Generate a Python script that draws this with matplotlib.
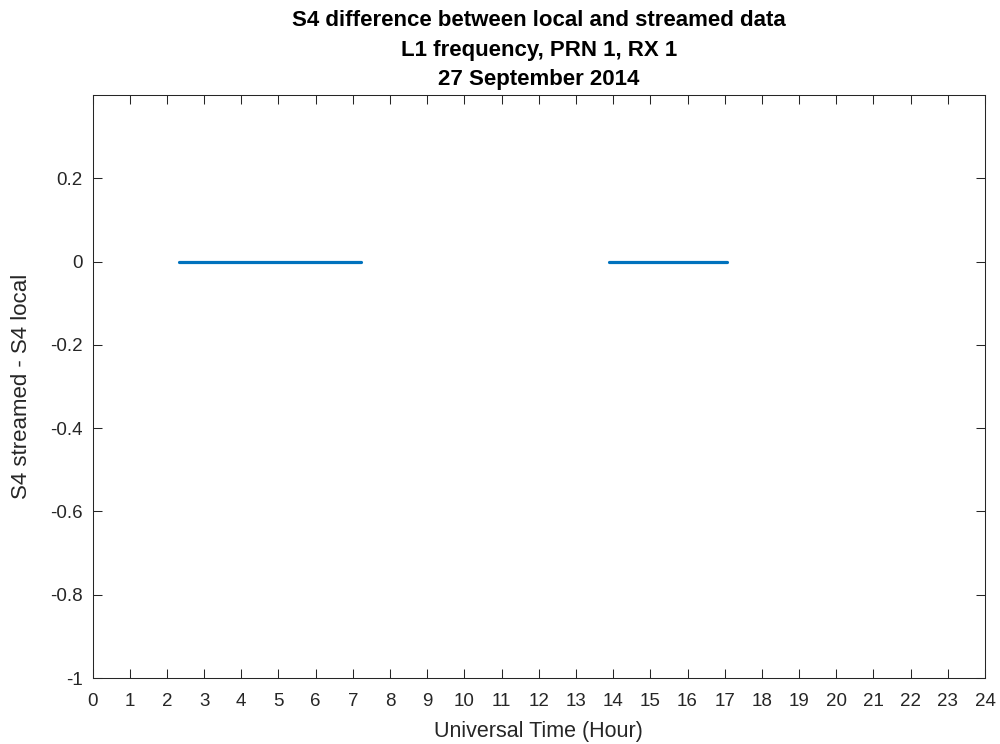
import numpy as np
import matplotlib.pyplot as plt

# S4 difference (streamed - local) per visible satellite pass, hours UT
pass_start = [2.33, 13.90]
pass_end = [7.22, 17.06]
pass_diff = [0.0, 0.0]

plt.rcParams['font.family'] = ['Liberation Sans', 'DejaVu Sans']

fig = plt.figure(figsize=(10, 7.44), dpi=100)
ax = fig.add_axes([0.0925, 0.0887, 0.8925, 0.7836])

for t0, t1, d in zip(pass_start, pass_end, pass_diff):
    ax.plot([t0, t1], [d, d], color='#0072BD', linewidth=2.3, solid_capstyle='round')

ax.set_xlim(0, 24)
ax.set_ylim(-1, 0.4)
ax.set_xticks(np.arange(0, 25, 1))
ax.set_yticks([-1, -0.8, -0.6, -0.4, -0.2, 0, 0.2])
ax.set_yticklabels(['-1', '-0.8', '-0.6', '-0.4', '-0.2', '0', '0.2'])

ax.tick_params(direction='in', length=6.5, width=0.75, top=True, right=True,
               labelsize=13.5, colors='#262626')
ax.tick_params(axis='x', pad=10.5)
ax.tick_params(axis='y', pad=7)
for sp in ax.spines.values():
    sp.set_linewidth(0.75)
    sp.set_color('#262626')

ax.set_xlabel('Universal Time (Hour)', fontsize=15.5, color='#262626', labelpad=8)
ax.set_ylabel('S4 streamed - S4 local', fontsize=16, color='#262626', labelpad=13)
ax.set_title('S4 difference between local and streamed data\nL1 frequency, PRN 1, RX 1\n27 September 2014',
             fontsize=16, fontweight='bold', linespacing=1.53, pad=7)

fig.savefig('out.png', dpi=100)
